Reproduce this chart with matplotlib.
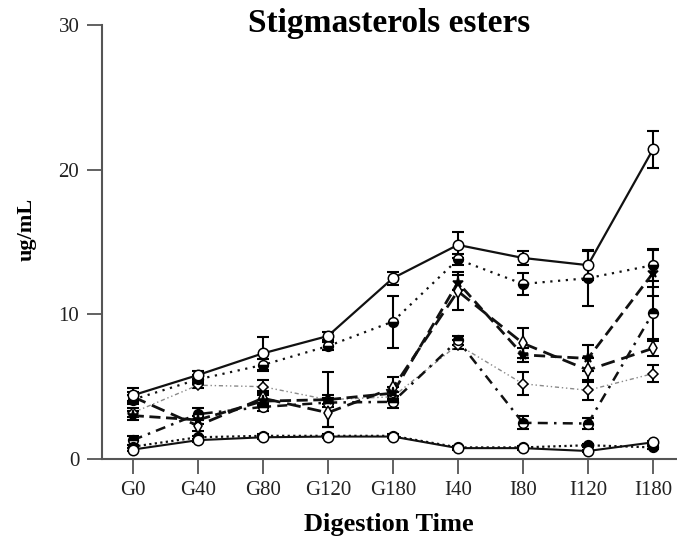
import matplotlib
matplotlib.use("Agg")
import matplotlib.pyplot as plt
import numpy as np

plt.rcParams['font.family'] = ['Liberation Serif', 'DejaVu Serif']

categories = ["G0", "G40", "G80", "G120", "G180", "I40", "I80", "I120", "I180"]

A = [4.4, 5.8, 7.3, 8.5, 12.5, 14.8, 13.9, 13.4, 21.4]
errA = [0.5, 0.3, 1.15, 0.3, 0.45, 0.9, 0.5, 1.05, 1.3]
B = [4.1, 5.5, 6.5, 7.8, 9.5, 13.8, 12.1, 12.5, 13.4]
errB = [0.3, 0.3, 0.4, 0.3, 1.8, 0.4, 0.75, 1.9, 1.1]
C = [3.2, 5.1, 5.0, 4.1, 4.3, 7.9, 5.2, 4.75, 5.9]
errC = [0.3, 0.2, 0.45, 0.3, 0.3, 0.3, 0.8, 0.7, 0.6]
D = [4.3, 2.3, 4.2, 3.2, 4.9, 11.6, 8.0, 6.15, 7.65]
errD = [0.3, 0.4, 0.5, 1.0, 0.8, 1.3, 1.05, 0.8, 0.5]
E = [3.0, 2.7, 4.0, 4.1, 4.55, 12.2, 7.2, 6.95, 12.85]
errE = [0.3, 0.3, 0.4, 1.9, 0.4, 0.5, 0.5, 0.9, 1.6]
F = [1.3, 3.1, 3.6, 3.9, 3.95, 8.2, 2.5, 2.45, 10.1]
errF = [0.3, 0.4, 0.3, 0.3, 0.4, 0.3, 0.45, 0.4, 1.8]
G = [0.65, 1.3, 1.5, 1.55, 1.55, 0.75, 0.75, 0.55, 1.15]
errG = [0.1, 0.1, 0.1, 0.1, 0.1, 0.1, 0.1, 0.1, 0.1]
H = [0.85, 1.5, 1.6, 1.6, 1.6, 0.8, 0.8, 0.95, 0.8]
errH = [0.1, 0.1, 0.1, 0.1, 0.1, 0.1, 0.1, 0.1, 0.1]

fig = plt.figure(figsize=(6.77, 5.37), dpi=100)
ax = fig.add_axes([0.150, 0.1453, 0.850, 0.808])

x = np.arange(len(categories))

series = [
    (C, errC, dict(color='#8a8a8a', lw=1.0, dashes=(3, 2, 1, 2, 1, 2)), dict(marker='D', ms=5.5, mfc='white', mec='black')),
    (F, errF, dict(color='#111111', lw=1.8, dashes=(4, 2.5, 1, 2.5)), dict(marker='o', ms=7, fillstyle='top', mfc='black', mfcalt='white', mec='black')),
    (D, errD, dict(color='#111111', lw=2.0, dashes=(5, 2.5)), dict(marker='d', ms=7, mfc='white', mec='black')),
    (E, errE, dict(color='#111111', lw=2.0, dashes=(4, 2)), dict(marker='*', ms=8, mfc='black', mec='black')),
    (H, errH, dict(color='#111111', lw=1.6, dashes=(1, 1.5)), dict(marker='o', ms=7, mfc='black', mec='black')),
    (G, errG, dict(color='#111111', lw=1.5, ls='-'), dict(marker='o', ms=7.5, mfc='white', mec='black')),
    (B, errB, dict(color='#111111', lw=1.6, dashes=(1, 2.5)), dict(marker='o', ms=7, fillstyle='bottom', mfc='black', mfcalt='white', mec='black')),
    (A, errA, dict(color='#111111', lw=1.6, ls='-'), dict(marker='o', ms=7.5, mfc='white', mec='black')),
]

for vals, errs, lstyle, mstyle in series:
    ax.errorbar(x, vals, yerr=errs, fmt='none', ecolor='black', elinewidth=1.5,
                capsize=4, capthick=1.5, zorder=2)
    ax.plot(x, vals, zorder=3, **lstyle)
    ax.plot(x, vals, ls='none', mew=1.1, zorder=4, **mstyle)

ax.set_xlim(-0.48, 8.37)
ax.set_ylim(0, 30)
ax.set_yticks([0, 10, 20, 30])
ax.set_xticks(x)
ax.set_xticklabels(categories)

for s in ['top', 'right']:
    ax.spines[s].set_visible(False)
for s in ['left', 'bottom']:
    ax.spines[s].set_color('#555555')
    ax.spines[s].set_linewidth(1.5)

ax.tick_params(axis='both', direction='out', length=11, width=1.3, color='#555555',
               labelsize=15, labelcolor='#222222', pad=5)

ax.text(0.5, 0.985, "Stigmasterols esters", transform=ax.transAxes, ha='center',
        va='baseline', fontsize=24, fontweight='bold')
ax.set_ylabel("ug/mL", fontsize=16, fontweight='bold')
ax.yaxis.set_label_coords(-0.112, 0.53)
ax.set_xlabel("Digestion Time", fontsize=19, fontweight='bold')
ax.xaxis.set_label_coords(0.5, -0.125)

fig.savefig("out.png", dpi=100)
